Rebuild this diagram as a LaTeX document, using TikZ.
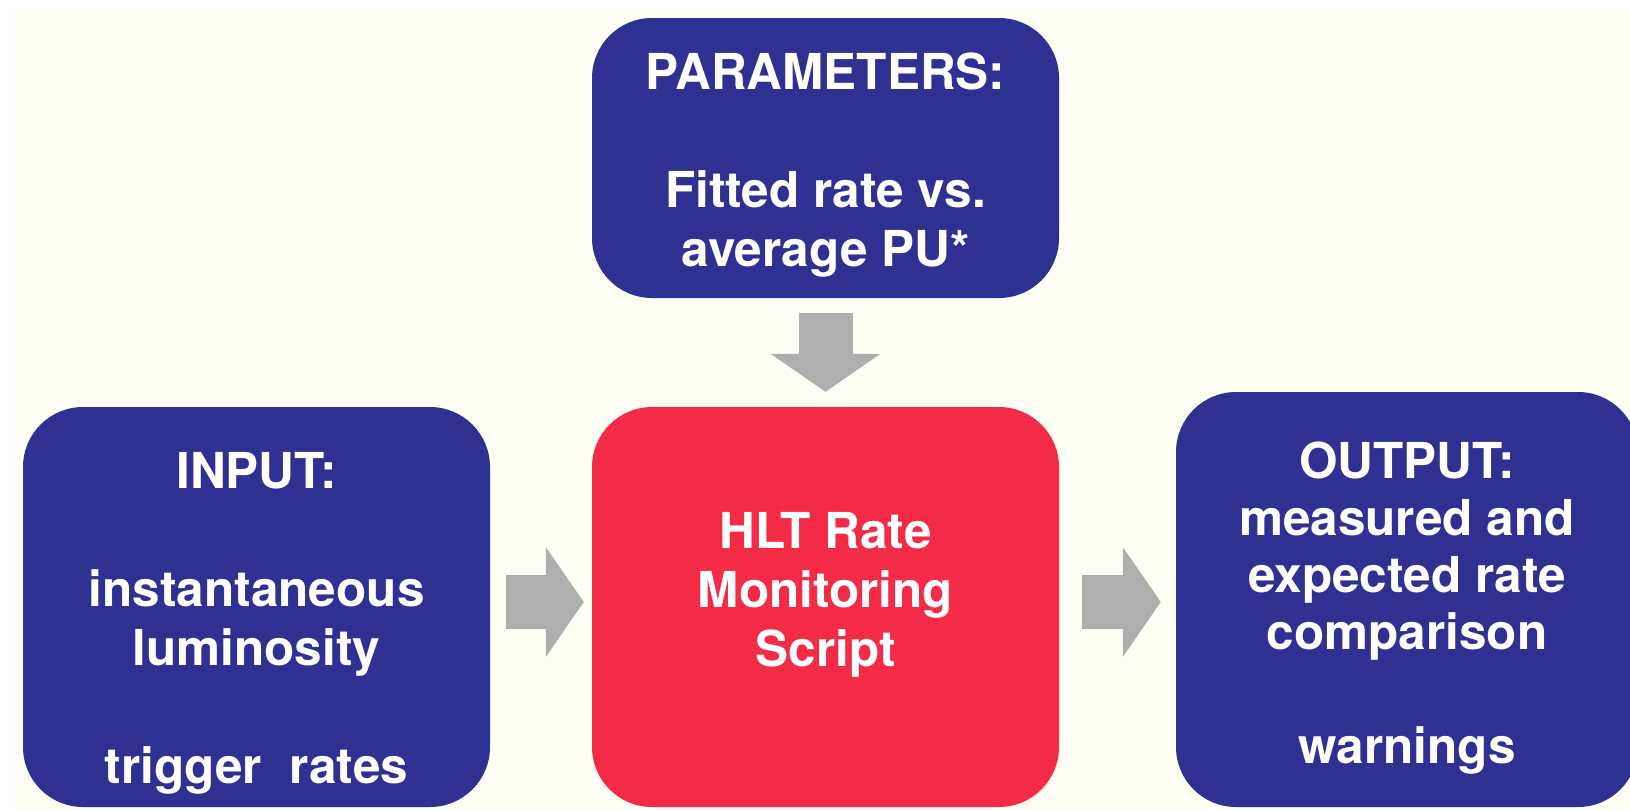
\documentclass[tikz,border=0pt]{standalone}
\usepackage{fontspec}
\setmainfont{TeX Gyre Heros}
\usetikzlibrary{arrows.meta}
\definecolor{paper}{HTML}{FEFEF5}
\definecolor{boxblue}{HTML}{2E3192}
\definecolor{boxred}{HTML}{F42B47}
\definecolor{arrowgray}{HTML}{AEAEAE}

\begin{document}
\begin{tikzpicture}[x=1pt,y=-1pt,
		box/.style={rounded corners=60pt,inner sep=0pt,minimum width=467pt},
		boxtext/.style={inner sep=0pt,text=white,align=center,font=\fontsize{49.5}{59}\selectfont\bfseries},
		blockarrow/.style={draw=arrowgray,line width=54pt,-{Triangle[length=38pt,width=108pt]}}]
		\useasboundingbox (0,0) rectangle (1630,809);
		\fill[paper] (14,7) rectangle (1630,809);
		%
		%boxes
		\node[box,fill=boxblue,minimum height=280pt] (params) at (825.5,158) {};
		\node[box,fill=boxblue,minimum height=400pt] (input) at (256.5,607) {};
		\node[box,fill=boxred,minimum height=400pt] (script) at (825.5,607) {};
		\node[box,fill=boxblue,minimum width=462pt,minimum height=415pt] (output) at (1407,599.5) {};
		%
		%texts
		\node[boxtext] (params text) at ([yshift=-7pt]params.center) {PARAMETERS:\\[59pt]Fitted rate vs.\\average PU*};
		\node[boxtext] (input text) at ([yshift=-16pt]input.center) {INPUT:\\[59pt]instantaneous\\luminosity\\[59pt]trigger\ \ rates};
		\node[boxtext] (script text) at ([yshift=12pt]script.center) {HLT Rate\\Monitoring\\Script};
		\node[boxtext,font=\fontsize{49.5}{57}\selectfont\bfseries] (output text) at ([yshift=-9pt]output.center) {OUTPUT:\\measured and\\expected rate\\comparison\\[57pt]warnings};
		%
		%arrows
		\draw[blockarrow,shorten <=15pt,shorten >=15pt] (params) -- (script);
		\draw[blockarrow,shorten <=16pt,shorten >=8pt] ([yshift=5pt]input.east) -- ([yshift=5pt]script.west);
		\draw[blockarrow,shorten <=23pt,shorten >=15pt] ([yshift=5pt]script.east) -- ([yshift=5pt]script.east -| output.west);
\end{tikzpicture}
\end{document}
